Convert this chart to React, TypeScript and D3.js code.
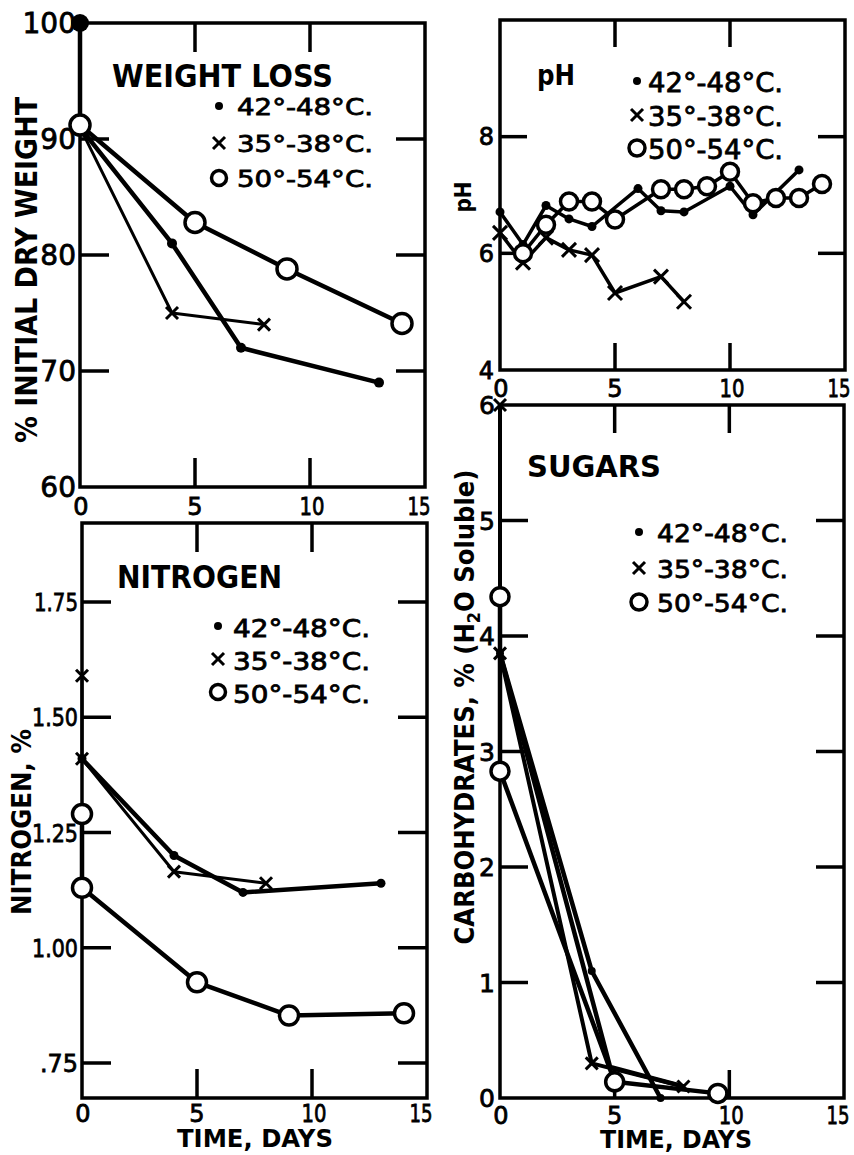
import React from "react";
import * as d3 from "d3";

type Pt = [number, number];

// ---------- shared ----------
const xTicks = [0, 5, 10, 15];
const xTickLabels = ["0", "5", "10", "15"];
const legendLabels = ["42°-48°C.", "35°-38°C.", "50°-54°C."];
const xAxisTitle = "TIME, DAYS";

// ---------- weight loss ----------
const wlTitle = "WEIGHT LOSS";
const wlYTitle = "% INITIAL DRY WEIGHT";
const wlYTicks = [60, 70, 80, 90, 100];
const wlYTickLabels = ["60", "70", "80", "90", "100"];
const wl4248: Pt[] = [[0, 100], [0, 91], [4, 81], [7, 72], [13, 69]];
const wl3538: Pt[] = [[0, 91], [4, 75], [8, 74]];
const wl5054: Pt[] = [[0, 91.2], [5, 82.8], [9, 78.8], [14, 74.1]];

// ---------- pH ----------
const phTitle = "pH";
const phYTitle = "pH";
const phYTicks = [4, 6, 8];
const phYTickLabels = ["4", "6", "8"];
const ph4248: Pt[] = [[0, 6.71], [1, 6.15], [2, 6.82], [3, 6.59], [4, 6.46], [6, 7.11], [7, 6.73], [8, 6.71], [10, 7.15], [11, 6.66], [13, 7.43]];
const ph3538: Pt[] = [[0, 6.35], [1, 5.84], [2, 6.27], [3, 6.06], [4, 5.97], [5, 5.32], [7, 5.6], [8, 5.17]];
const ph5054: Pt[] = [[1, 6.0], [2, 6.49], [3, 6.89], [4, 6.89], [5, 6.58], [7, 7.1], [8, 7.1], [9, 7.15], [10, 7.4], [11, 6.86], [12, 6.95], [13, 6.95], [14, 7.19]];

// ---------- nitrogen ----------
const nTitle = "NITROGEN";
const nYTitle = "NITROGEN, %";
const nYTicks = [0.75, 1.0, 1.25, 1.5, 1.75];
const nYTickLabels = [".75", "1.00", "1.25", "1.50", "1.75"];
const n4248: Pt[] = [[0, 1.41], [4, 1.2], [7, 1.12], [13, 1.14]];
const n3538: Pt[] = [[0, 1.59], [0, 1.41], [4, 1.165], [8, 1.14]];
const n5054: Pt[] = [[0, 1.29], [0, 1.13], [5, 0.925], [9, 0.853], [14, 0.858]];

// ---------- sugars ----------
const sTitle = "SUGARS";
const sYTitleA = "CARBOHYDRATES, % (H";
const sYTitleSub = "2";
const sYTitleB = "O Soluble)";
const sYTicks = [0, 1, 2, 3, 4, 5, 6];
const sYTickLabels = ["0", "1", "2", "3", "4", "5", "6"];
const s4248: Pt[] = [[0, 3.85], [4, 1.1], [7, 0]];
const s3538: Pt[] = [[0, 6], [0, 3.85], [4, 0.3], [8, 0.1]];
const s3538b: Pt[] = [[0, 3.85], [4.8, 0.27], [8, 0.1]];
const s5054: Pt[] = [[0, 4.34], [0, 2.83], [5, 0.14], [9.5, 0.04]];

const FONT = "DejaVu Sans, Verdana, sans-serif";

type Kind = "dot" | "cross" | "circle" | "none";

function Marker({ kind, x, y, r }: { kind: Kind; x: number; y: number; r: number }) {
  if (kind === "dot") return <circle cx={x} cy={y} r={r} fill="#000" />;
  if (kind === "cross")
    return (
      <g stroke="#000" strokeWidth={3}>
        <line x1={x - r} y1={y - r} x2={x + r} y2={y + r} />
        <line x1={x - r} y1={y + r} x2={x + r} y2={y - r} />
      </g>
    );
  if (kind === "circle") return <circle cx={x} cy={y} r={r} fill="#fff" stroke="#000" strokeWidth={3.5} />;
  return null;
}

interface SeriesCfg {
  pts: Pt[];
  kind: Kind;
  lw: number;
  r: number;
  firstR?: number;
}

interface PanelCfg {
  box: { l: number; r: number; t: number; b: number };
  yDomain: [number, number];
  yRange: [number, number];
  yTicks: number[];
  yTickLabels: string[];
  yLabelRight: number;
  yLabelSize: number;
  yLabelLen?: number[];
  xLabelBaseline: number;
  xLabelSize: number;
  series: SeriesCfg[];
  tickLen: number;
}

const heavy = { stroke: "#000", strokeWidth: 0.8 };

function Panel({ cfg }: { cfg: PanelCfg }) {
  const { box } = cfg;
  const x = d3.scaleLinear().domain([0, 15]).range([box.l, box.r]);
  const y = d3.scaleLinear().domain(cfg.yDomain).range(cfg.yRange);
  const line = d3
    .line<Pt>()
    .x((d) => x(d[0]))
    .y((d) => y(d[1]));
  const innerY = cfg.yTicks.filter((v) => y(v) > box.t + 4 && y(v) < box.b - 4);
  const innerX = xTicks.filter((v) => x(v) > box.l + 4 && x(v) < box.r - 4);
  const T = cfg.tickLen;
  const order: Kind[] = ["none", "dot", "cross", "circle"];
  const xShift = [1, 0, 2, -6];
  const xLen = [undefined, undefined, 25, 23];
  return (
    <g>
      <rect x={box.l} y={box.t} width={box.r - box.l} height={box.b - box.t} fill="none" stroke="#000" strokeWidth={3.5} />
      <g stroke="#000" strokeWidth={3.5}>
        {innerY.map((v) => (
          <g key={"y" + v}>
            <line x1={box.l} x2={box.l + T} y1={y(v)} y2={y(v)} />
            <line x1={box.r - T} x2={box.r} y1={y(v)} y2={y(v)} />
          </g>
        ))}
        {innerX.map((v) => (
          <g key={"x" + v}>
            <line x1={x(v)} x2={x(v)} y1={box.t} y2={box.t + T} />
            <line x1={x(v)} x2={x(v)} y1={box.b - T} y2={box.b} />
          </g>
        ))}
      </g>
      {cfg.series.map((s, i) => (
        <path key={"l" + i} d={line(s.pts) || ""} fill="none" stroke="#000" strokeWidth={s.lw} strokeLinejoin="round" />
      ))}
      {order.map((k) =>
        cfg.series
          .filter((s) => s.kind === k)
          .map((s, i) =>
            s.pts.map((p, j) => (
              <Marker key={k + i + "-" + j} kind={s.kind} x={x(p[0])} y={y(p[1])} r={j === 0 && s.firstR ? s.firstR : s.r} />
            ))
          )
      )}
      <g fontFamily={FONT} fontSize={cfg.yLabelSize} textAnchor="end" {...heavy}>
        {cfg.yTicks.map((v, i) => (
          <text
            key={"yl" + v}
            x={cfg.yLabelRight}
            y={y(v) + cfg.yLabelSize * 0.36}
            textLength={cfg.yLabelLen ? cfg.yLabelLen[i] : undefined}
            lengthAdjust="spacingAndGlyphs"
          >
            {cfg.yTickLabels[i]}
          </text>
        ))}
      </g>
      <g fontFamily={FONT} fontSize={cfg.xLabelSize} textAnchor="middle" {...heavy}>
        {xTicks.map((v, i) => (
          <text
            key={"xl" + v}
            x={x(v) + xShift[i]}
            y={cfg.xLabelBaseline}
            textLength={xLen[i]}
            lengthAdjust="spacingAndGlyphs"
          >
            {xTickLabels[i]}
          </text>
        ))}
      </g>
    </g>
  );
}

function Legend({ x, mx, baselines, size, len, mOff, rc }: { x: number; mx: number; baselines: number[]; size: number; len: number; mOff: number; rc: number }) {
  const kinds: Kind[] = ["dot", "cross", "circle"];
  const rs = [4, 6, rc];
  return (
    <g>
      {legendLabels.map((lab, i) => (
        <g key={lab}>
          <Marker kind={kinds[i]} x={mx} y={baselines[i] - mOff} r={rs[i]} />
          <text x={x} y={baselines[i]} fontFamily={FONT} fontSize={size} textLength={len} lengthAdjust="spacingAndGlyphs" {...heavy}>
            {lab}
          </text>
        </g>
      ))}
    </g>
  );
}

function Title({ text, x, y, size, len }: { text: string; x: number; y: number; size: number; len: number }) {
  return (
    <text x={x} y={y} fontFamily={FONT} fontWeight="bold" fontSize={size} textLength={len} lengthAdjust="spacingAndGlyphs">
      {text}
    </text>
  );
}

function VTitle({ x, cy, size, len, children }: { x: number; cy: number; size: number; len: number; children: React.ReactNode }) {
  return (
    <text
      transform={`translate(${x},${cy}) rotate(-90)`}
      textAnchor="middle"
      fontFamily={FONT}
      fontWeight="bold"
      fontSize={size}
      textLength={len}
      lengthAdjust="spacingAndGlyphs"
    >
      {children}
    </text>
  );
}

export default function App() {
  const wl: PanelCfg = {
    box: { l: 80, r: 425, t: 23, b: 487 },
    yDomain: [60, 100],
    yRange: [487, 23],
    yTicks: wlYTicks,
    yTickLabels: wlYTickLabels,
    yLabelRight: 76,
    yLabelSize: 28,
    xLabelBaseline: 515,
    xLabelSize: 24,
    tickLen: 29,
    series: [
      { pts: wl4248, kind: "dot", lw: 4.5, r: 5, firstR: 9 },
      { pts: wl3538, kind: "cross", lw: 3, r: 6 },
      { pts: wl5054, kind: "circle", lw: 4.5, r: 10 },
    ],
  };
  const ph: PanelCfg = {
    box: { l: 500, r: 845, t: 20, b: 370 },
    yDomain: [4, 10],
    yRange: [370, 20],
    yTicks: phYTicks,
    yTickLabels: phYTickLabels,
    yLabelRight: 494,
    yLabelSize: 24,
    xLabelBaseline: 397,
    xLabelSize: 24,
    tickLen: 27,
    series: [
      { pts: ph4248, kind: "dot", lw: 3.5, r: 4.5 },
      { pts: ph3538, kind: "cross", lw: 3.5, r: 7 },
      { pts: ph5054, kind: "circle", lw: 3.5, r: 8.5 },
    ],
  };
  const n: PanelCfg = {
    box: { l: 82, r: 427, t: 523, b: 1098 },
    yDomain: [0.75, 1.75],
    yRange: [1063, 602],
    yTicks: nYTicks,
    yTickLabels: nYTickLabels,
    yLabelRight: 78,
    yLabelSize: 25,
    yLabelLen: [38, 46, 46, 46, 44],
    xLabelBaseline: 1122,
    xLabelSize: 24,
    tickLen: 29,
    series: [
      { pts: n4248, kind: "dot", lw: 4.5, r: 4.5 },
      { pts: n3538, kind: "cross", lw: 3, r: 6 },
      { pts: n5054, kind: "circle", lw: 4.5, r: 9.5 },
    ],
  };
  const s: PanelCfg = {
    box: { l: 500, r: 844, t: 405, b: 1098 },
    yDomain: [0, 6],
    yRange: [1098, 405],
    yTicks: sYTicks,
    yTickLabels: sYTickLabels,
    yLabelRight: 495,
    yLabelSize: 25,
    xLabelBaseline: 1124,
    xLabelSize: 24,
    tickLen: 28,
    series: [
      { pts: s3538b, kind: "none", lw: 4.5, r: 0 },
      { pts: s4248, kind: "dot", lw: 4.5, r: 4 },
      { pts: s3538, kind: "cross", lw: 4, r: 6 },
      { pts: s5054, kind: "circle", lw: 4.5, r: 9 },
    ],
  };

  return (
    <svg width={854} height={1155} style={{ position: "absolute", left: 0, top: 0, background: "#fff" }}>
      <rect x={0} y={0} width={854} height={1155} fill="#fff" />
      <Panel cfg={wl} />
      <Panel cfg={ph} />
      <Panel cfg={n} />
      <Panel cfg={s} />

      <Title text={wlTitle} x={112} y={87} size={32} len={221} />
      <Legend x={237} mx={219} baselines={[115, 152, 187]} size={23} len={136} mOff={9} rc={7.5} />
      <VTitle x={37} cy={270} size={31} len={346}>{wlYTitle}</VTitle>

      <Title text={phTitle} x={537} y={85} size={28} len={38} />
      <Legend x={648} mx={637} baselines={[92, 126, 159]} size={26} len={135} mOff={11} rc={8} />
      <VTitle x={471} cy={197} size={23} len={31}>{phYTitle}</VTitle>

      <Title text={nTitle} x={117} y={588} size={32} len={165} />
      <Legend x={233} mx={218} baselines={[637, 670, 703]} size={24} len={137} mOff={11} rc={7.5} />
      <VTitle x={31} cy={822} size={27} len={186}>{nYTitle}</VTitle>
      <text x={255} y={1147} textAnchor="middle" fontFamily={FONT} fontWeight="bold" fontSize={24} textLength={156} lengthAdjust="spacingAndGlyphs">
        {xAxisTitle}
      </text>

      <Title text={sTitle} x={527} y={477} size={30} len={134} />
      <Legend x={657} mx={639} baselines={[542, 578, 612]} size={25} len={131} mOff={10} rc={8} />
      <VTitle x={474} cy={707} size={27} len={475}>
        {sYTitleA}
        <tspan fontSize={18} dy={6}>{sYTitleSub}</tspan>
        <tspan dy={-6}>{sYTitleB}</tspan>
      </VTitle>
      <text x={676} y={1148} textAnchor="middle" fontFamily={FONT} fontWeight="bold" fontSize={24} textLength={152} lengthAdjust="spacingAndGlyphs">
        {xAxisTitle}
      </text>
    </svg>
  );
}
